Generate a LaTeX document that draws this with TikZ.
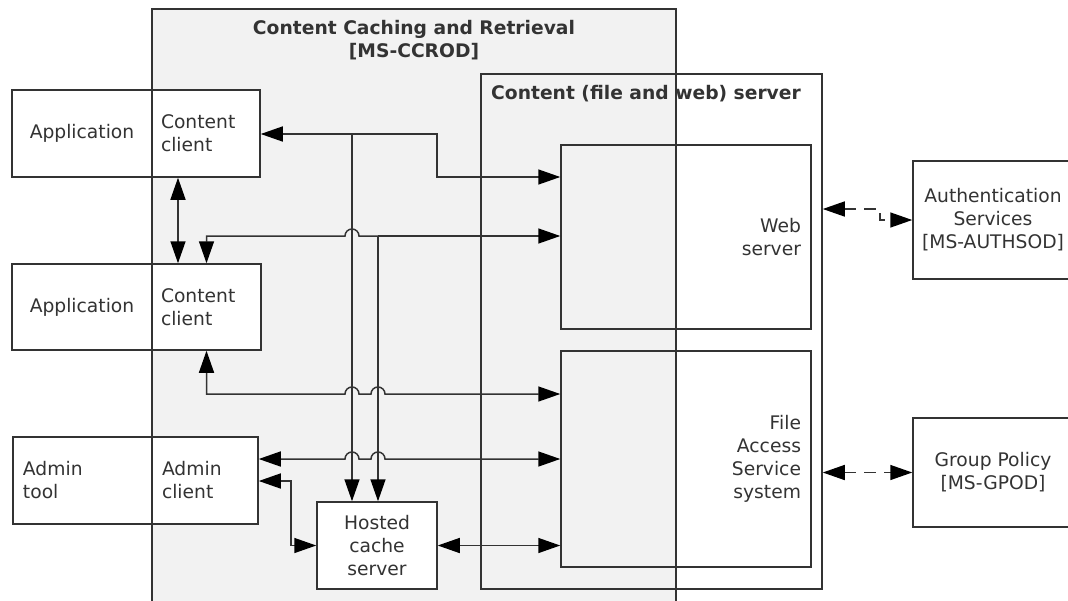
\documentclass[tikz,border=0pt]{standalone}
\usepackage{fontspec}
\setmainfont{DejaVu Sans}
\usetikzlibrary{arrows.meta,calc}
\definecolor{lc}{HTML}{333333}
\definecolor{tc}{HTML}{333333}
\definecolor{gfill}{HTML}{F2F2F2}
\begin{document}
\begin{tikzpicture}[x=1pt,y=-1pt,
  every node/.style={font=\fontsize{18.7}{23}\selectfont, text=tc, inner sep=0pt},
  box/.style={draw=lc, line width=1.5pt, fill=white},
  openbox/.style={draw=lc, line width=1.5pt},
  lefttext/.style={align=left},
  conn/.style={draw=lc, line width=1.5pt},
  arr/.style={conn, -{Triangle[length=22pt,width=15pt,black]}},
  arrtwo/.style={conn, {Triangle[length=22pt,width=15pt,black]}-{Triangle[length=22pt,width=15pt,black]}},
  dashedtwo/.style={arrtwo, dash pattern=on 12pt off 8pt}]
\useasboundingbox (0,0) rectangle (1068,600);
\clip (0,0) rectangle (1068,600);
\fill[white] (0,0) rectangle (1068,600);

% Content Caching and Retrieval region
\node[draw=lc, line width=1.5pt, fill=gfill, minimum width=524pt, minimum height=611pt] (ccr) at (414,314.5) {};
\node[font=\fontsize{18.7}{23}\selectfont\bfseries, align=center] (ccrt) at (414,40.5) {Content Caching and Retrieval\\{[MS-CCROD]}};

% Content server
\node[openbox, minimum width=341pt, minimum height=515pt] (cs) at (651.5,331.5) {};
\node[font=\fontsize{18.7}{23}\selectfont\bfseries, anchor=west] (cst) at (491,94) {Content (file and web) server};

\node[openbox, minimum width=250pt, minimum height=184pt, text width=230pt, inner xsep=10pt, align=right] (web) at (686,237) {Web\\server};
\node[openbox, minimum width=250pt, minimum height=216pt, text width=230pt, inner xsep=10pt, align=right] (file) at (686,459) {File\\Access\\Service\\system};

% Clients
\node[box, minimum width=140pt, minimum height=87pt] (app1) at (82,133.5) {Application};
\node[box, minimum width=108pt, minimum height=87pt, text width=90pt, inner xsep=9pt, lefttext] (cc1) at (206,133.5) {Content\\client};
\node[box, minimum width=140pt, minimum height=86pt] (app2) at (82,307) {Application};
\node[box, minimum width=109pt, minimum height=86pt, text width=91pt, inner xsep=9pt, lefttext] (cc2) at (206.5,307) {Content\\client};
\node[box, minimum width=139pt, minimum height=87pt, text width=119pt, inner xsep=10pt, lefttext] (admint) at (82.5,480.5) {Admin\\tool};
\node[box, minimum width=106pt, minimum height=87pt, text width=86pt, inner xsep=10pt, lefttext] (adminc) at (205,480.5) {Admin\\client};
\node[box, minimum width=120pt, minimum height=87pt, align=center] (hosted) at (377,545.5) {Hosted\\cache\\server};

% External
\node[box, minimum width=160pt, minimum height=118pt, align=center] (auth) at (993,220) {Authentication\\Services\\{[MS-AUTHSOD]}};
\node[box, minimum width=160pt, minimum height=109pt, align=center] (gp) at (993,472.5) {Group Policy\\{[MS-GPOD]}};

% Junctions and bends
\coordinate (J1) at (352,134);
\coordinate (J2) at (378,236);
\coordinate (A1) at (437,134);
\coordinate (A2) at (437,177);
\coordinate (Y394) at (0,394);
\coordinate (Y459) at (0,459);
\coordinate (Y481) at (0,481);
\coordinate (Y209) at (0,209);
\coordinate (B1) at (291,481);
\coordinate (D1) at (880,209);

% Connectors
\draw[arr] (J1) -- (cc1.east |- J1);
\draw[arr] (J1) -- (A1) -- (A2) -- (web.west |- A2);
\draw[arr] (J1) -- (J1 |- hosted.north);

\draw[arrtwo] ([xshift=-28pt]cc1.south) -- ([xshift=-28pt]cc1.south |- cc2.north);

\draw[arr] (J2) -- (359,236) arc[start angle=0,end angle=180,radius=7pt] -- (cc2.north |- J2) -- (cc2.north);
\draw[arr] (J2) -- (web.west |- J2);
\draw[arr] (J2) -- (J2 |- hosted.north);

\draw[arrtwo] (cc2.south) -- (cc2.south |- Y394) -- (345,394) arc[start angle=180,end angle=0,radius=7pt] -- (371,394) arc[start angle=180,end angle=0,radius=7pt] -- (file.west |- Y394);
\draw[arrtwo] (adminc.east |- Y459) -- (345,459) arc[start angle=180,end angle=0,radius=7pt] -- (371,459) arc[start angle=180,end angle=0,radius=7pt] -- (file.west |- Y459);
\draw[arrtwo] (adminc.east |- Y481) -- (B1) |- (hosted.west);
\draw[arrtwo] (hosted.east) -- (file.west |- hosted.east);

\draw[dashedtwo] (cs.east |- Y209) -- (D1) |- (auth.west);
\draw[dashedtwo] (cs.east |- gp.west) -- (gp.west);
\end{tikzpicture}
\end{document}
